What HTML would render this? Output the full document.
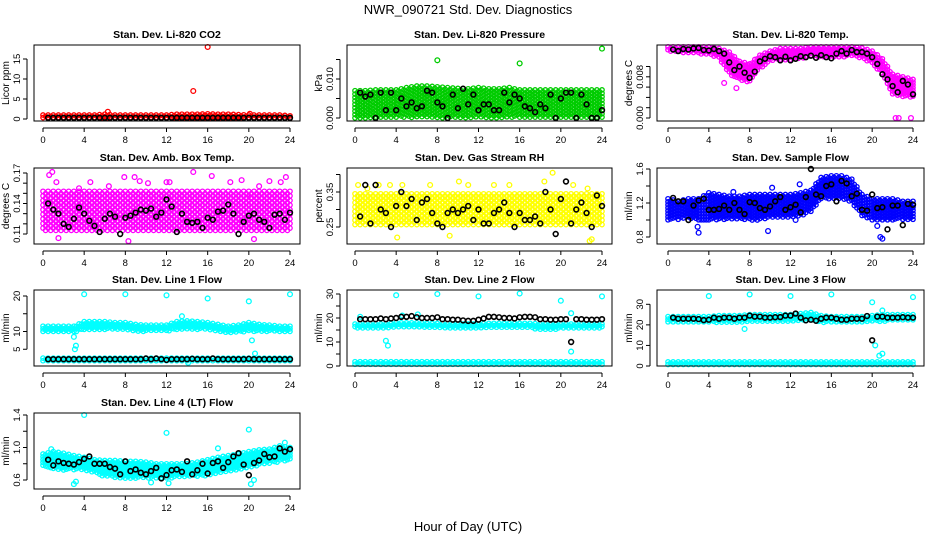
<!DOCTYPE html>
<html><head><meta charset="utf-8"><style>
html,body{margin:0;padding:0;background:#fff;}
svg{display:block;font-family:"Liberation Sans",sans-serif;}
</style></head><body>
<svg id="chart" width="936" height="540" viewBox="0 0 936 540">
<rect width="936" height="540" fill="#fff"/>
<text x="468" y="14" text-anchor="middle" font-size="13">NWR_090721  Std. Dev. Diagnostics</text>
<text x="468" y="531" text-anchor="middle" font-size="13">Hour of Day (UTC)</text>
</svg>
<script>
// ---- data arrays ----
const xTicks=[0,4,8,12,16,20,24];
const blackHours=[0.5,1,1.5,2,2.5,3,3.5,4,4.5,5,5.5,6,6.5,7,7.5,8,8.5,9,9.5,10,10.5,11,11.5,12,12.5,13,13.5,14,14.5,15,15.5,16,16.5,17,17.5,18,18.5,19,19.5,20,20.5,21,21.5,22,22.5,23,23.5,24];
const bandHours=[0,1,2,3,4,5,6,7,8,9,10,11,12,13,14,15,16,17,18,19,20,21,22,23,24];

const co2Lo=[0.1,0.1,0.1,0.1,0.1,0.1,0.1,0.1,0.1,0.1,0.1,0.1,0.1,0.1,0.1,0.1,0.1,0.1,0.1,0.1,0.1,0.1,0.1,0.1,0.1];
const co2Hi=[1,1,1,1,1,1,1.2,1,1,1,1,1,1,1.2,1.2,1.2,1.3,1.2,1.2,1.1,1,1,1,1,0.8];
const co2Black=[0.3,0.3,0.3,0.3,0.3,0.3,0.3,0.3,0.3,0.3,0.3,0.3,0.3,0.3,0.3,0.3,0.3,0.3,0.3,0.3,0.3,0.3,0.3,0.3,0.3,0.3,0.3,0.3,0.3,0.3,0.3,0.3,0.3,0.3,0.3,0.3,0.3,0.3,0.3,0.3,0.3,0.3,0.3,0.3,0.3,0.3,0.3,0.3];
const co2OutX=[6.3,14.6,16,20.1];
const co2OutY=[1.8,7,18,1.3];

const presLo=[0,0,0,0,0,0,0,0,0,0,0,0,0,0,0,0,0,0,0,0,0,0,0,0,0];
const presHi=[0.007,0.007,0.0072,0.0072,0.0072,0.0078,0.0082,0.0082,0.008,0.0078,0.0076,0.0075,0.0078,0.0075,0.0075,0.0078,0.0072,0.0072,0.0072,0.0072,0.0072,0.0072,0.0072,0.0072,0.0072];
const presBlack=[0.0065,0.0055,0.006,0.0,0.0065,0.002,0.0065,0.002,0.005,0.003,0.004,0.0025,0.003,0.007,0.0065,0.004,0.003,0.0,0.006,0.0025,0.0075,0.0035,0.006,0.002,0.0035,0.0035,0.002,0.002,0.0065,0.004,0.006,0.005,0.003,0.0025,0.0015,0.0035,0.0025,0.006,0.0,0.005,0.0065,0.0065,0.0,0.006,0.0035,0.0,0.0,0.002];
const presOutX=[8,16,24];
const presOutY=[0.0148,0.014,0.0178];

const tempLo=[0.0128,0.0128,0.0125,0.0125,0.0122,0.0115,0.0085,0.0072,0.0068,0.0095,0.011,0.0112,0.0112,0.0115,0.012,0.0118,0.0118,0.0118,0.012,0.0115,0.0105,0.0085,0.0045,0.004,0.004];
const tempHi=[0.0138,0.0138,0.0138,0.0138,0.0138,0.0135,0.0128,0.011,0.0105,0.0122,0.013,0.0135,0.0135,0.0135,0.0138,0.0138,0.0138,0.0138,0.0138,0.0136,0.013,0.0115,0.0085,0.008,0.0075];
const tempBlack=[0.0133,0.013,0.0134,0.0133,0.0135,0.0136,0.0132,0.0131,0.0134,0.013,0.0125,0.0108,0.0093,0.01,0.0088,0.0078,0.009,0.011,0.0115,0.012,0.0118,0.0112,0.0119,0.0112,0.0115,0.012,0.0118,0.0121,0.0117,0.0122,0.0118,0.0116,0.0125,0.013,0.0125,0.0132,0.0128,0.0128,0.0125,0.0118,0.0105,0.0085,0.0075,0.0062,0.005,0.0072,0.0065,0.0046];
const tempOutX=[5.5,6.7,22.3,22.6,23.8];
const tempOutY=[0.0068,0.0058,0,0,0];

const ambLo=[0.113,0.113,0.113,0.113,0.113,0.113,0.113,0.113,0.113,0.113,0.113,0.113,0.113,0.113,0.113,0.113,0.113,0.113,0.113,0.113,0.113,0.113,0.113,0.113,0.113];
const ambHi=[0.152,0.152,0.152,0.152,0.152,0.152,0.152,0.152,0.152,0.152,0.152,0.152,0.152,0.152,0.152,0.152,0.152,0.152,0.152,0.152,0.152,0.152,0.152,0.152,0.152];
const ambBlack=[0.14,0.134,0.13,0.12,0.117,0.125,0.136,0.13,0.123,0.118,0.112,0.125,0.13,0.127,0.11,0.126,0.128,0.131,0.134,0.133,0.135,0.127,0.131,0.144,0.137,0.112,0.13,0.122,0.121,0.122,0.116,0.126,0.124,0.132,0.133,0.139,0.13,0.11,0.122,0.128,0.13,0.124,0.122,0.116,0.129,0.13,0.124,0.131];
const ambOutX=[0.6,0.9,1.3,3.5,4.6,7.9,8.9,9.4,10.2,12,12.3,14.6,16.4,18.2,19.3,20.5,21,22,23.1,23.6,1.5,8.3,20.2,6.4];
const ambOutY=[0.168,0.171,0.161,0.155,0.161,0.166,0.166,0.162,0.16,0.161,0.161,0.171,0.167,0.161,0.163,0.105,0.157,0.162,0.161,0.166,0.106,0.103,0.146,0.157];

const rhLo=[0.255,0.255,0.255,0.255,0.255,0.255,0.255,0.255,0.255,0.255,0.255,0.255,0.255,0.255,0.255,0.255,0.255,0.255,0.255,0.255,0.255,0.255,0.255,0.255,0.255];
const rhHi=[0.345,0.345,0.345,0.345,0.345,0.345,0.345,0.345,0.345,0.345,0.345,0.345,0.345,0.345,0.345,0.345,0.345,0.345,0.345,0.345,0.345,0.345,0.345,0.345,0.345];
const rhBlack=[0.28,0.37,0.26,0.37,0.3,0.29,0.25,0.31,0.35,0.31,0.33,0.27,0.32,0.33,0.29,0.26,0.25,0.29,0.3,0.29,0.3,0.31,0.27,0.3,0.26,0.26,0.29,0.3,0.32,0.29,0.25,0.29,0.27,0.27,0.28,0.26,0.35,0.3,0.23,0.33,0.38,0.26,0.3,0.32,0.29,0.25,0.34,0.31];
const rhOutX=[0.3,2.3,3.4,4.6,7.3,10.1,11,13.5,15,18.4,19.2,21.2,22.6,23,4.1,9.2,22.8,1.2];
const rhOutY=[0.37,0.37,0.37,0.37,0.37,0.38,0.37,0.37,0.37,0.38,0.405,0.37,0.36,0.215,0.22,0.225,0.21,0.36];

const flowLo=[1.0,1.0,1.02,1.0,1.0,1.0,1.0,1.0,1.0,1.0,1.02,1.02,1.02,1.05,1.1,1.25,1.25,1.25,1.2,1.05,1.0,1.0,1.0,1.0,1.0];
const flowHi=[1.25,1.22,1.25,1.25,1.32,1.3,1.28,1.28,1.3,1.3,1.3,1.3,1.3,1.32,1.35,1.5,1.52,1.52,1.48,1.3,1.25,1.25,1.25,1.22,1.22];
const flowBlack=[1.26,1.22,1.22,1.0,1.17,1.23,1.25,1.12,1.12,1.13,1.17,1.12,1.2,1.12,1.07,1.21,1.2,1.14,1.12,1.16,1.22,1.27,1.12,1.15,1.18,1.09,1.27,1.6,1.3,1.28,1.4,1.42,1.22,1.46,1.43,1.28,1.31,1.12,1.11,1.3,1.14,1.15,0.89,1.17,1.17,0.94,1.19,1.18];
const flowOutX=[2.9,3,9.8,12.9,20.5,20.8,21,6.4,10.2,12.5];
const flowOutY=[0.92,0.85,0.87,1.42,0.93,0.8,0.78,1.33,1.38,1.0];

const l1Lo=[9.8,9.8,9.8,9.8,10.5,10.5,10.5,10.5,10.5,10,10,10,10,10.5,10.5,10.5,10.5,10,9.5,9.8,10,10,10,10,10];
const l1Hi=[11.5,11.5,11.5,11.5,12.8,12.8,12.8,12.5,12.5,12,11.8,11.8,11.8,12.8,13,12.8,12.5,12,11.5,11.8,12.5,12,11.8,11.5,11.5];
const l1Lo2=[1.6,1.6,1.6,1.6,1.6,1.6,1.6,1.6,1.6,1.6,1.6,1.6,1.6,1.6,1.6,1.6,1.6,1.6,1.6,1.6,1.6,1.6,1.6,1.6,1.6];
const l1Hi2=[2.5,2.5,2.5,2.5,2.5,2.5,2.5,2.5,2.5,2.5,2.5,2.5,2.5,2.5,2.5,2.5,2.5,2.5,2.5,2.5,2.5,2.5,2.5,2.5,2.5];
const l1Black=[2.2,2.2,2.2,2.2,2.2,2.2,2.2,2.2,2.2,2.2,2.2,2.2,2.2,2.2,2.2,2.2,2.2,2.2,2.2,2.4,2.2,2.4,2.2,2.0,2.2,2.2,2.2,2.2,2.3,2.2,2.2,2.2,2.4,2.2,2.2,2.2,2.2,2.2,2.2,2.3,2.2,2.2,2.2,2.2,2.2,2.2,2.2,2.2];
const l1OutX=[4,8,12,16,20,24,3,3.1,3.2,20.3,20.6,13.5,14.1];
const l1OutY=[20.5,20.5,20.2,19.3,18.5,20.5,8.5,5,6,7.5,3.8,14.3,1.2];

const l2Lo=[15.5,15.5,15.5,15.5,16,16,16,16,16,15.5,15.5,15.5,15.5,15.8,15.8,15.8,15.8,15.8,15,15,15.5,15.5,15.5,15.5,15.5];
const l2Hi=[17.5,17.5,17.5,17.5,18,18,18,17.8,17.8,17.5,17.5,17.5,17.5,17.8,17.8,17.8,17.8,17.8,17.5,17.5,17.5,17.5,17.5,17.5,17.5];
const l2Lo2=[0.6,0.6,0.6,0.6,0.6,0.6,0.6,0.6,0.6,0.6,0.6,0.6,0.6,0.6,0.6,0.6,0.6,0.6,0.6,0.6,0.6,0.6,0.6,0.6,0.6];
const l2Hi2=[1.8,1.8,1.8,1.8,1.8,1.8,1.8,1.8,1.8,1.8,1.8,1.8,1.8,1.8,1.8,1.8,1.8,1.8,1.8,1.8,1.8,1.8,1.8,1.8,1.8];
const l2Black=[19.5,19.5,19.5,19.5,19.8,19.5,19.8,20,20.5,20.5,20.8,20.3,20,20,20,20.3,19.5,19.5,19.3,19.3,19,18.8,18.8,19.3,19.8,20.5,20.5,20.3,20,20,19.8,20.3,20.5,20.5,20.3,19.5,19.5,19.3,19.3,19.5,19.5,10,19.5,19.5,19.3,19.3,19.3,19.5];
const l2OutX=[4,8,12,16,20,24,3,3.2,21,21,0.5,4.6,6.1];
const l2OutY=[29.5,30,29,30.2,27.2,29,10.5,8.5,6,22,20.5,21,21.5];

const l3Lo=[21,21,21,21,21,21,21,21,21.5,21.5,21.5,21.5,21.5,22,22.5,21,21,21,21,21,21.5,21.5,22,22,22];
const l3Hi=[24,24,24,24,24,24.5,24.5,24.5,25,25,25,25,25,25.5,26,24.5,24,24,24,24,24.5,25,25,25,25];
const l3Lo2=[0.5,0.5,0.5,0.5,0.5,0.5,0.5,0.5,0.5,0.5,0.5,0.5,0.5,0.5,0.5,0.5,0.5,0.5,0.5,0.5,0.5,0.5,0.5,0.5,0.5];
const l3Hi2=[2,2,2,2,2,2,2,2,2,2,2,2,2,2,2,2,2,2,2,2,2,2,2,2,2];
const l3Black=[23.5,23,23,23,23,22.8,22.3,22.5,23.5,23,23.5,23.5,23,23.5,23.5,24.5,24,24,23.5,23.5,23.7,23.8,24.5,24.5,25.5,23.5,22.2,22.5,22,23,23.5,23.5,23,22.5,22.5,23,23,23,24.3,12.5,24,24,23.5,23.5,23.5,23.7,23.5,23.5];
const l3OutX=[4,8,12,16,24,20,7.5,20.3,20.7,21,21];
const l3OutY=[34,34.8,34,34.8,33.5,31,18,10,5,6,27];

const l4Lo=[0.76,0.74,0.72,0.72,0.72,0.68,0.64,0.63,0.62,0.62,0.62,0.62,0.62,0.63,0.64,0.64,0.65,0.68,0.7,0.72,0.75,0.78,0.8,0.82,0.85];
const l4Hi=[0.92,0.95,0.93,0.9,0.88,0.85,0.84,0.84,0.83,0.83,0.82,0.8,0.8,0.8,0.8,0.82,0.85,0.88,0.9,0.92,0.95,0.97,0.98,1.02,1.0];
const l4Black=[0.85,0.78,0.83,0.81,0.8,0.79,0.82,0.86,0.89,0.8,0.8,0.8,0.76,0.74,0.67,0.83,0.71,0.73,0.69,0.67,0.71,0.75,0.62,0.66,0.72,0.73,0.7,0.83,0.67,0.72,0.8,0.68,0.81,0.83,0.75,0.82,0.89,0.93,0.79,0.66,0.81,0.84,0.92,0.88,0.89,0.99,0.95,0.98];
const l4OutX=[4,12,20,3,3.2,12.2,20.2,20.5,10.5,0.8,17,23.5];
const l4OutY=[1.4,1.18,1.22,0.55,0.58,0.56,0.55,0.6,0.57,0.98,0.99,1.06];

// ---- layout ----
const cols=[{L:34,R:300,x0:43,x1:290},{L:347,R:612,x0:355,x1:602},{L:657,R:924,x0:668,x1:913}];
const rows=[{T:45,B:121},{T:168,B:244},{T:290,B:366},{T:413,B:489}];
const panels=[
 {name:'co2',title:'Stan. Dev. Li-820 CO2',ylab:'Licor ppm',c:0,r:0,col:'#ff0000',v1:0,p1:119,v2:15,p2:59,ticks:[0,5,10,15],labels:['0','5','10','15'],bands:[[co2Lo,co2Hi]],black:co2Black,ox:co2OutX,oy:co2OutY,sp:2.6},
 {name:'pressure',title:'Stan. Dev. Li-820 Pressure',ylab:'kPa',c:1,r:0,col:'#00cc00',v1:0,p1:118,v2:0.01,p2:79,ticks:[0,0.005,0.01,0.015],labels:['0.000','','0.010',''],bands:[[presLo,presHi]],black:presBlack,ox:presOutX,oy:presOutY,sp:3.4},
 {name:'temp',title:'Stan. Dev. Li-820 Temp.',ylab:'degrees C',c:2,r:0,col:'#ff00ff',v1:0,p1:118,v2:0.008,p2:76.8,ticks:[0,0.002,0.004,0.006,0.008,0.010],labels:['0.000','','','','0.008',''],bands:[[tempLo,tempHi]],black:tempBlack,ox:tempOutX,oy:tempOutY,sp:2.8},
 {name:'amb-box-temp',title:'Stan. Dev. Amb. Box Temp.',ylab:'degrees C',c:0,r:1,col:'#ff00ff',v1:0.11,p1:234,v2:0.17,p2:173,ticks:[0.11,0.12,0.13,0.14,0.15,0.16,0.17],labels:['0.11','','','0.14','','','0.17'],bands:[[ambLo,ambHi]],black:ambBlack,ox:ambOutX,oy:ambOutY,sp:4.6},
 {name:'gas-rh',title:'Stan. Dev. Gas Stream RH',ylab:'percent',c:1,r:1,col:'#ffff00',v1:0.25,p1:227,v2:0.35,p2:192,ticks:[0.25,0.3,0.35,0.4],labels:['0.25','','0.35',''],bands:[[rhLo,rhHi]],black:rhBlack,ox:rhOutX,oy:rhOutY,sp:4.4},
 {name:'sample-flow',title:'Stan. Dev. Sample Flow',ylab:'ml/min',c:2,r:1,col:'#0000ff',v1:0.8,p1:237,v2:1.6,p2:169,ticks:[0.8,1.0,1.2,1.4,1.6],labels:['0.8','','1.2','','1.6'],bands:[[flowLo,flowHi]],black:flowBlack,ox:flowOutX,oy:flowOutY,sp:3.0},
 {name:'line1-flow',title:'Stan. Dev. Line 1 Flow',ylab:'ml/min',c:0,r:2,col:'#00ffff',v1:0,p1:367,v2:20,p2:296,ticks:[5,10,15,20],labels:['5','10','','20'],bands:[[l1Lo,l1Hi],[l1Lo2,l1Hi2]],black:l1Black,ox:l1OutX,oy:l1OutY,sp:2.6},
 {name:'line2-flow',title:'Stan. Dev. Line 2 Flow',ylab:'ml/min',c:1,r:2,col:'#00ffff',v1:0,p1:366,v2:30,p2:294,ticks:[0,5,10,15,20,25,30],labels:['0','','10','','20','','30'],bands:[[l2Lo,l2Hi],[l2Lo2,l2Hi2]],black:l2Black,ox:l2OutX,oy:l2OutY,sp:2.6},
 {name:'line3-flow',title:'Stan. Dev. Line 3 Flow',ylab:'ml/min',c:2,r:2,col:'#00ffff',v1:0,p1:366,v2:30,p2:304.3,ticks:[0,10,20,30],labels:['0','10','20','30'],bands:[[l3Lo,l3Hi],[l3Lo2,l3Hi2]],black:l3Black,ox:l3OutX,oy:l3OutY,sp:2.6},
 {name:'line4-flow',title:'Stan. Dev. Line 4 (LT) Flow',ylab:'ml/min',c:0,r:3,col:'#00ffff',v1:0.6,p1:480,v2:1.4,p2:415,ticks:[0.6,0.8,1.0,1.2,1.4],labels:['0.6','','1.0','','1.4'],bands:[[l4Lo,l4Hi]],black:l4Black,ox:l4OutX,oy:l4OutY,sp:2.8}
];

const NS='http://www.w3.org/2000/svg';
const svg=document.getElementById('chart');
function mk(tag,attrs,parent){const e=document.createElementNS(NS,tag);for(const k in attrs)e.setAttribute(k,attrs[k]);parent.appendChild(e);return e;}
function interp(arr,h){const i=Math.min(23,Math.floor(h));const f=h-i;return arr[i]*(1-f)+arr[i+1]*f;}

panels.forEach(p=>{
  const C=cols[p.c],R=rows[p.r];
  const xs=h=>C.x0+(C.x1-C.x0)*h/24;
  const ys=v=>p.p1+(p.p2-p.p1)*(v-p.v1)/(p.v2-p.v1);
  const g=mk('g',{},svg);
  
  
  const t=mk('text',{x:(C.L+C.R)/2,y:R.T-7,'text-anchor':'middle','font-size':10.5,'font-weight':'bold'},g);
  t.textContent=p.title;
  
  
  const yl=mk('text',{x:0,y:0,'text-anchor':'middle','font-size':10,transform:`translate(${C.L-25},${(R.T+R.B)/2}) rotate(-90)`},g);
  yl.textContent=p.ylab;
  
  
  const pts=mk('g',{fill:'none','stroke-width':1.3},g);
  
  
  p.bands.forEach(b=>{
    const lo=b[0],hi=b[1];
    let k=0;
    for(let h=0;h<=24.001;h+=0.25){
      const yl_=ys(interp(lo,h)),yh=ys(interp(hi,h));
      const top=Math.min(yl_,yh),bot=Math.max(yl_,yh);
      const off=(k%2)*p.sp/2;k++;
      for(let y=top+off;y<=bot;y+=p.sp){
        mk('circle',{cx:xs(h).toFixed(1),cy:y.toFixed(1),r:2.2,stroke:p.col},pts);
      }
    }
  });
  p.ox.forEach((h,i)=>{
    const c=mk('circle',{cx:xs(h),cy:ys(p.oy[i]),r:2.4,stroke:p.col},pts);
    
    
  });
  p.black.forEach((v,i)=>{
    const c=mk('circle',{cx:xs(blackHours[i]),cy:ys(v),r:2.4,stroke:'#000','stroke-width':1.6,fill:'none'},pts);
    
    
  });
  const box=mk('rect',{x:C.L,y:R.T,width:C.R-C.L,height:R.B-R.T,fill:'none',stroke:'#000','stroke-width':1},g);
  
  
  const xa=mk('g',{},g);
  
  
  mk('line',{x1:xs(0),x2:xs(24),y1:R.B+7,y2:R.B+7,stroke:'#000'},xa);
  xTicks.forEach(v=>{
    mk('line',{x1:xs(v),x2:xs(v),y1:R.B+7,y2:R.B+11,stroke:'#000'},xa);
    const tl=mk('text',{x:xs(v),y:R.B+22,'text-anchor':'middle','font-size':9.5},xa);
    tl.textContent=String(v);
  });
  const ya=mk('g',{},g);
  
  
  mk('line',{x1:C.L-7,x2:C.L-7,y1:ys(p.ticks[0]),y2:ys(p.ticks[p.ticks.length-1]),stroke:'#000'},ya);
  p.ticks.forEach((v,i)=>{
    mk('line',{x1:C.L-11,x2:C.L-7,y1:ys(v),y2:ys(v),stroke:'#000'},ya);
    if(p.labels[i]){
      const tl=mk('text',{x:0,y:0,'text-anchor':'middle','font-size':9.5,transform:`translate(${C.L-14},${ys(v)}) rotate(-90)`},ya);
      tl.textContent=p.labels[i];
    }
  });
});
</script>
</body></html>
